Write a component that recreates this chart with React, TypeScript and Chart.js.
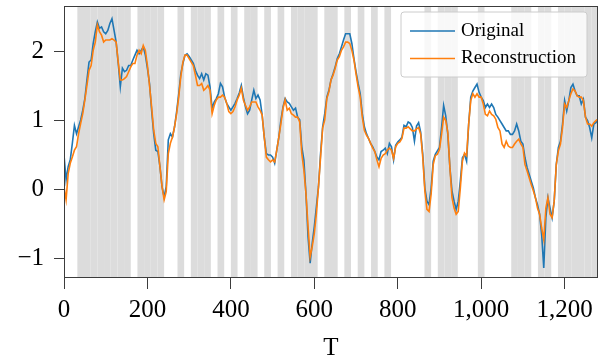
import React, { useEffect, useRef } from 'react';
import { Chart, registerables } from 'chart.js';

Chart.register(...registerables);

// sample spacing along T for the series below
const T_STEP = 5;

const ORIGINAL = [
  0.50, 0.14, 0.33, 0.43, 0.67, 0.93, 0.81, 0.91, 1.01, 1.15,
  1.32, 1.59, 1.85, 1.88, 2.12, 2.29, 2.43, 2.34, 2.36, 2.29,
  2.26, 2.31, 2.41, 2.48, 2.31, 2.14, 1.83, 1.49, 1.76, 1.71,
  1.73, 1.80, 1.80, 1.88, 1.95, 2.02, 1.97, 2.02, 2.07, 1.95,
  1.76, 1.54, 1.15, 0.81, 0.57, 0.55, 0.33, 0.04, -0.11, 0.04,
  0.72, 0.81, 0.76, 0.91, 1.13, 1.39, 1.68, 1.83, 1.95, 1.97,
  1.93, 1.88, 1.83, 1.73, 1.66, 1.61, 1.68, 1.59, 1.68, 1.66,
  1.49, 1.18, 1.27, 1.32, 1.39, 1.54, 1.49, 1.34, 1.25, 1.20,
  1.15, 1.20, 1.25, 1.32, 1.40, 1.51, 1.34, 1.20, 1.10, 1.15,
  1.30, 1.44, 1.32, 1.37, 1.30, 1.08, 0.76, 0.52, 0.50, 0.50,
  0.47, 0.38, 0.57, 0.76, 1.01, 1.20, 1.32, 1.27, 1.25, 1.20,
  1.15, 1.18, 1.05, 1.01, 0.62, 0.43, -0.06, -0.69, -1.07, -0.78,
  -0.54, -0.25, 0.04, 0.52, 0.91, 1.10, 1.34, 1.44, 1.59, 1.68,
  1.78, 1.90, 1.97, 2.07, 2.17, 2.26, 2.26, 2.26, 2.12, 1.90,
  1.71, 1.54, 1.39, 1.10, 0.91, 0.81, 0.74, 0.67, 0.62, 0.55,
  0.47, 0.43, 0.55, 0.57, 0.60, 0.52, 0.67, 0.62, 0.43, 0.64,
  0.69, 0.72, 0.76, 0.93, 0.91, 0.98, 0.96, 0.90, 0.70, 0.92,
  0.97, 0.83, 0.51, 0.02, -0.17, -0.22, 0.02, 0.41, 0.51, 0.56,
  0.61, 0.90, 1.22, 1.07, 0.80, 0.32, -0.02, -0.17, -0.29, -0.17,
  0.12, 0.46, 0.51, 0.41, 0.95, 1.34, 1.43, 1.48, 1.53, 1.41,
  1.34, 1.29, 1.19, 1.24, 1.19, 1.24, 1.19, 1.09, 1.05, 1.00,
  0.95, 0.90, 0.85, 0.85, 0.80, 0.80, 0.85, 0.95, 0.85, 0.70,
  0.66, 0.46, 0.32, 0.22, 0.12, 0.02, -0.12, -0.22, -0.36, -0.66,
  -1.14, -0.41, -0.12, -0.27, -0.41, -0.17, 0.36, 0.61, 0.70, 0.95,
  1.29, 1.14, 1.29, 1.48, 1.53, 1.43, 1.36, 1.36, 1.24, 1.31,
  1.05, 1.00, 0.90, 0.75, 0.95, 0.97, 1.02,
];

const RECONSTRUCTION = [
  0.04, -0.15, 0.23, 0.38, 0.47, 0.57, 0.62, 0.81, 0.96, 1.10,
  1.30, 1.51, 1.73, 1.80, 2.02, 2.14, 2.39, 2.29, 2.24, 2.14,
  2.17, 2.17, 2.17, 2.19, 2.17, 2.14, 1.85, 1.59, 1.59, 1.61,
  1.64, 1.71, 1.78, 1.83, 1.83, 1.95, 2.02, 1.97, 2.09, 2.02,
  1.80, 1.51, 1.20, 0.86, 0.67, 0.62, 0.33, 0.04, -0.15, -0.03,
  0.52, 0.67, 0.76, 0.91, 1.10, 1.34, 1.64, 1.85, 1.95, 1.95,
  1.90, 1.85, 1.80, 1.66, 1.51, 1.51, 1.54, 1.44, 1.47, 1.51,
  1.44, 1.10, 1.22, 1.30, 1.34, 1.34, 1.37, 1.34, 1.25, 1.13,
  1.10, 1.13, 1.20, 1.30, 1.37, 1.47, 1.30, 1.22, 1.15, 1.20,
  1.27, 1.27, 1.27, 1.20, 1.15, 1.08, 0.76, 0.47, 0.43, 0.40,
  0.43, 0.40, 0.57, 0.76, 0.96, 1.18, 1.30, 1.15, 1.18, 1.10,
  1.08, 1.05, 1.05, 0.98, 0.52, 0.28, -0.06, -0.54, -0.98, -0.83,
  -0.64, -0.35, 0.04, 0.47, 0.89, 1.01, 1.32, 1.42, 1.59, 1.66,
  1.76, 1.88, 1.93, 2.02, 2.07, 2.14, 2.14, 2.12, 2.02, 1.88,
  1.68, 1.49, 1.34, 1.05, 0.86, 0.79, 0.74, 0.67, 0.60, 0.55,
  0.43, 0.33, 0.45, 0.50, 0.52, 0.57, 0.60, 0.57, 0.45, 0.62,
  0.67, 0.69, 0.74, 0.89, 0.89, 0.91, 0.88, 0.85, 0.85, 0.88,
  0.90, 0.80, 0.46, -0.02, -0.29, -0.32, -0.07, 0.36, 0.49, 0.51,
  0.58, 0.80, 1.05, 1.00, 0.83, 0.32, -0.12, -0.27, -0.36, -0.32,
  0.02, 0.41, 0.53, 0.49, 0.95, 1.29, 1.39, 1.34, 1.39, 1.34,
  1.34, 1.24, 1.09, 1.07, 1.14, 1.09, 1.07, 1.02, 0.90, 0.85,
  0.66, 0.61, 0.70, 0.63, 0.61, 0.61, 0.66, 0.70, 0.73, 0.66,
  0.61, 0.36, 0.27, 0.17, 0.07, -0.02, -0.12, -0.27, -0.36, -0.56,
  -0.73, -0.27, -0.12, -0.36, -0.41, -0.17, 0.36, 0.56, 0.66, 0.90,
  1.24, 1.19, 1.29, 1.39, 1.46, 1.43, 1.36, 1.34, 1.34, 1.29,
  1.05, 0.95, 0.95, 0.92, 0.97, 1.00, 1.02,
];

// masked (shaded) T ranges, made of blocks of SHADE_BLOCK samples
const SHADE_BLOCK = 16;
const SHADED_RANGES: [number, number][] = [
  [32, 160], [176, 240], [272, 288], [304, 352], [368, 384], [400, 416],
  [432, 464], [480, 496], [512, 528], [544, 608], [624, 656], [672, 688],
  [704, 720], [736, 752], [768, 784], [864, 880], [896, 944], [992, 1008],
  [1072, 1120], [1136, 1168], [1184, 1280],
];

const X_TICKS = [0, 200, 400, 600, 800, 1000, 1200];
const Y_TICKS = [-1, 0, 1, 2];
const X_MIN = 0;
const X_MAX = 1280;
const Y_MIN = -1.286;
const Y_MAX = 2.664;
const LABEL_ORIGINAL = 'Original';
const LABEL_RECON = 'Reconstruction';
const X_TITLE = 'T';

const SERIF = '"Liberation Serif", "Times New Roman", serif';

export default function App() {
  const ref = useRef<HTMLCanvasElement>(null);

  useEffect(() => {
    document.body.style.margin = '0';
    const canvas = ref.current;
    if (!canvas) return;

    const toPoints = (arr: number[]) => arr.map((v, i) => ({ x: i * T_STEP, y: v }));

    const shadePlugin = {
      id: 'shade',
      beforeDatasetsDraw(chart: any) {
        const { ctx, chartArea, scales } = chart;
        const x = scales.x;
        ctx.save();
        ctx.fillStyle = '#dcdcdc';
        for (const [a, b] of SHADED_RANGES) {
          for (let s = a; s < b; s += SHADE_BLOCK) {
            const x0 = x.getPixelForValue(s);
            const x1 = x.getPixelForValue(Math.min(s + SHADE_BLOCK, b));
            ctx.fillRect(x0, chartArea.top, x1 - x0, chartArea.bottom - chartArea.top);
          }
        }
        ctx.restore();
      },
    };

    const framePlugin = {
      id: 'frame',
      afterDatasetsDraw(chart: any) {
        const { ctx, chartArea } = chart;
        ctx.save();
        ctx.strokeStyle = '#3c3c3c';
        ctx.lineWidth = 1;
        const l = Math.round(chartArea.left) + 0.5;
        const t = Math.round(chartArea.top) + 0.5;
        const r = Math.round(chartArea.right) - 0.5;
        const b = Math.round(chartArea.bottom) - 0.5;
        ctx.strokeRect(l, t, r - l, b - t);
        ctx.restore();
      },
    };

    const legendPlugin = {
      id: 'innerLegend',
      afterDraw(chart: any) {
        const { ctx, chartArea } = chart;
        const ds = chart.data.datasets;
        const boxR = chartArea.right - 11;
        const boxL = boxR - 186;
        const boxT = chartArea.top + 6;
        const boxB = boxT + 65;
        ctx.save();
        ctx.beginPath();
        const rr = 3;
        ctx.moveTo(boxL + rr, boxT);
        ctx.arcTo(boxR, boxT, boxR, boxB, rr);
        ctx.arcTo(boxR, boxB, boxL, boxB, rr);
        ctx.arcTo(boxL, boxB, boxL, boxT, rr);
        ctx.arcTo(boxL, boxT, boxR, boxT, rr);
        ctx.closePath();
        ctx.fillStyle = 'rgba(255,255,255,0.8)';
        ctx.fill();
        ctx.strokeStyle = '#cccccc';
        ctx.lineWidth = 1;
        ctx.stroke();
        const order = [0, 1];
        const rowY = [boxT + 19, boxT + 46.5];
        ctx.font = `19px ${SERIF}`;
        ctx.textBaseline = 'alphabetic';
        ctx.textAlign = 'left';
        order.forEach((idx, k) => {
          const d = ds.find((q: any) => q.legendIndex === idx);
          ctx.strokeStyle = d.borderColor;
          ctx.lineWidth = 1.6;
          ctx.beginPath();
          ctx.moveTo(boxL + 9, rowY[k]);
          ctx.lineTo(boxL + 54, rowY[k]);
          ctx.stroke();
          ctx.fillStyle = '#000';
          ctx.fillText(d.label, boxL + 60, rowY[k] + 4.5);
        });
        ctx.restore();
      },
    };

    const chart = new Chart(canvas, {
      type: 'line',
      data: {
        datasets: [
          {
            label: LABEL_RECON,
            legendIndex: 1,
            data: toPoints(RECONSTRUCTION),
            borderColor: '#ff7f0e',
            borderWidth: 1.6,
            pointRadius: 0,
            tension: 0,
            fill: false,
          } as any,
          {
            label: LABEL_ORIGINAL,
            legendIndex: 0,
            data: toPoints(ORIGINAL),
            borderColor: '#1f77b4',
            borderWidth: 1.6,
            pointRadius: 0,
            tension: 0,
            fill: false,
          } as any,
        ],
      },
      options: {
        animation: false,
        responsive: false,
        maintainAspectRatio: false,
        devicePixelRatio: 1,
        layout: { padding: { top: 6, right: 2, left: 0, bottom: 0 } },
        plugins: { legend: { display: false }, tooltip: { enabled: false } },
        scales: {
          x: {
            type: 'linear',
            min: X_MIN,
            max: X_MAX,
            afterBuildTicks: (s: any) => { s.ticks = X_TICKS.map((v) => ({ value: v })); },
            afterFit: (s: any) => {
              s.height = 80;
              s.paddingLeft = 0;
              s.paddingRight = 0;
              s.paddingTop = 0;
              s.paddingBottom = 0;
            },
            ticks: {
              autoSkip: false,
              maxRotation: 0,
              padding: 6,
              color: '#000',
              font: { family: SERIF, size: 25 },
              callback: (v: any) => Number(v).toLocaleString('en-US'),
            },
            grid: { drawOnChartArea: false, drawTicks: true, tickLength: 11, color: '#3c3c3c', lineWidth: 1 },
            border: { display: false },
            title: {
              display: true,
              text: X_TITLE,
              color: '#000',
              font: { family: SERIF, size: 25, lineHeight: 0.8 },
              padding: { top: 0, bottom: 0 },
            },
          },
          y: {
            type: 'linear',
            min: Y_MIN,
            max: Y_MAX,
            afterBuildTicks: (s: any) => { s.ticks = Y_TICKS.map((v) => ({ value: v })); },
            afterFit: (s: any) => {
              s.width = 64;
              s.paddingTop = 0;
              s.paddingBottom = 0;
              s.paddingLeft = 0;
              s.paddingRight = 0;
            },
            ticks: {
              padding: 10,
              color: '#000',
              font: { family: SERIF, size: 25 },
              callback: (v: any) => (Number(v) < 0 ? '\u2212' + Math.abs(Number(v)) : String(v)),
            },
            grid: { drawOnChartArea: false, drawTicks: true, tickLength: 10, color: '#3c3c3c', lineWidth: 1 },
            border: { display: false },
          },
        },
      },
      plugins: [shadePlugin, framePlugin, legendPlugin],
    } as any);

    return () => chart.destroy();
  }, []);

  return (
    <div style={{ position: 'absolute', left: 0, top: 0, width: 600, height: 358 }}>
      <canvas ref={ref} width={600} height={358} style={{ display: 'block' }} />
    </div>
  );
}
